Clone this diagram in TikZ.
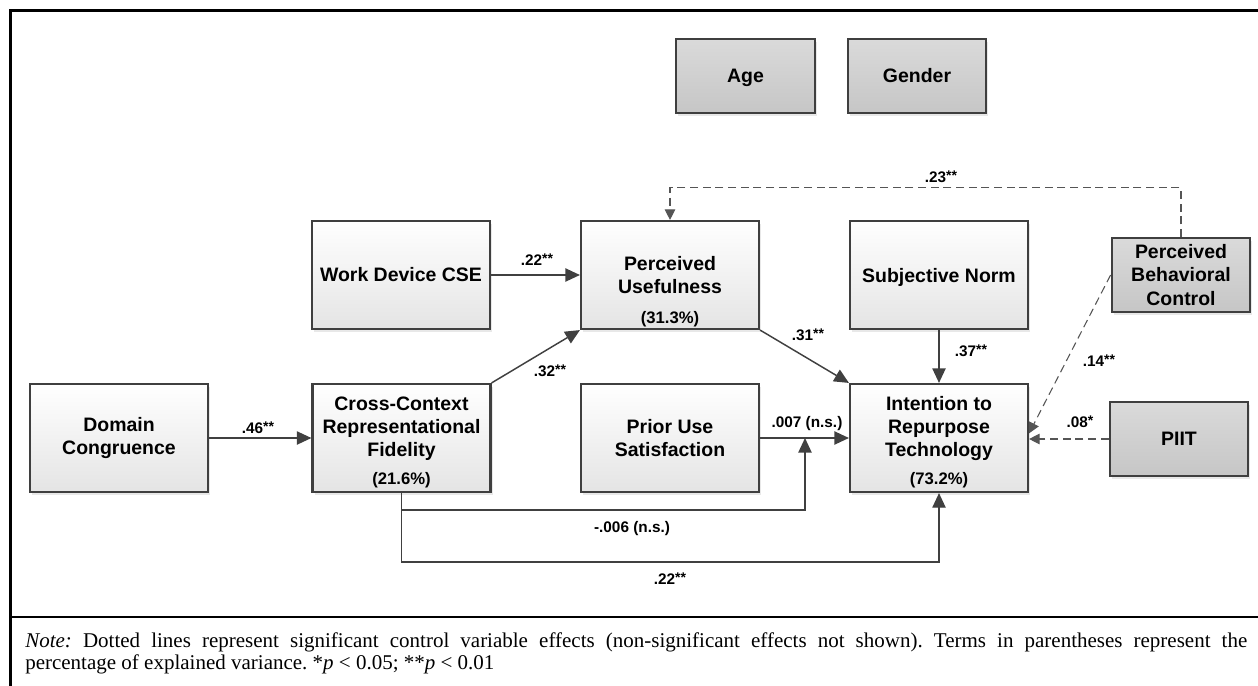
\documentclass[tikz,border=0pt]{standalone}
\usepackage{fontspec}
\setmainfont{Liberation Serif}
\setsansfont{Liberation Sans}
\usetikzlibrary{arrows.meta,shadows}
\newcommand{\stars}[1]{\raisebox{0.08em}{\fontsize{10.5}{10.5}\selectfont #1}}

\begin{document}
\begin{tikzpicture}[x=0.75pt,y=-0.75pt,
  var/.style={draw=boxline,line width=1.6pt,top color=boxtop,bottom color=boxbot,
    minimum width=133.5pt,minimum height=81pt,inner sep=0pt,align=center,
    font=\sffamily\bfseries\fontsize{14.6}{17.3}\selectfont,
    drop shadow={shadow xshift=1.5pt,shadow yshift=-2pt,opacity=0.18}},
  ctrl/.style={var,top color=ctrltop,bottom color=ctrlbot,minimum width=104pt,minimum height=55.5pt},
  pct/.style={font=\sffamily\bfseries\fontsize{12.5}{14}\selectfont,inner sep=0pt,anchor=south},
  effect/.style={draw=arrowline,line width=1.1pt,-{Triangle[length=11pt,width=10pt]}},
  ctrleffect/.style={draw=dashline,line width=0.8pt,dash pattern=on 6pt off 3.5pt,-{Triangle[length=8pt,width=8pt]}},
  coef/.style={font=\sffamily\bfseries\fontsize{11.5}{13}\selectfont,inner sep=0pt,anchor=base}]
\definecolor{boxline}{HTML}{3F3F3F}
\definecolor{boxtop}{HTML}{FFFFFF}
\definecolor{boxbot}{HTML}{E4E4E4}
\definecolor{ctrltop}{HTML}{DADADA}
\definecolor{ctrlbot}{HTML}{C6C6C6}
\definecolor{arrowline}{HTML}{404040}
\definecolor{dashline}{HTML}{555555}
\useasboundingbox (0,0) rectangle (1258,686);
\clip (0,0) rectangle (1258,686);
% frame and note rule
\draw[line width=2.25pt] (1270,10) -- (10,10) -- (10,700);
\draw[line width=1.5pt] (10,617) -- (1270,617);

% control variables
\node[ctrl,text depth=0pt] (age) at (745.5,76) {Age};
\node[ctrl] (gender) at (917,76) {Gender};
\node[ctrl] (pbc) at (1181,275) {Perceived\\Behavioral\\Control};
\node[ctrl] (piit) at (1179,439) {PIIT};

% model variables
\node[var] (wdc) at (401,275) {Work Device CSE};
\node[var,label={[pct,yshift=2pt]south:(31.3\%)}] (pu) at (670,275) {Perceived\\Usefulness};
\node[var,text depth=0pt] (sn) at (939,275) {Subjective Norm};
\node[var] (dc) at (119,438) {Domain\\Congruence};
\node[var,label={[pct,yshift=4pt]south:(21.6\%)}] (cc) at (401.5,438) {Cross-Context\\Representational\\Fidelity\\\mbox{}};
\node[var] (pus) at (670,438) {Prior Use\\Satisfaction};
\node[var,label={[pct,yshift=4pt]south:(73.2\%)}] (it) at (939,438) {Intention to\\Repurpose\\Technology\\\mbox{}};
\coordinate (pusjoin) at (805,438);

% paths
\draw[effect] (dc) -- (cc);
\draw[effect] (wdc) -- (pu);
\draw[effect] (cc.north east) -- (pu.south west);
\draw[effect] (pu.south east) -- (it.north west);
\draw[effect] (sn) -- (it);
\draw[effect] (pus) -- (it);
\draw[effect] (cc.south) -- ++(0,17) -| (pusjoin);
\draw[effect] (cc.south) -- ++(0,69) -| (it.south);
\draw[ctrleffect] (pbc.north) -- ++(0,-49) -| (pu.north);
\draw[ctrleffect] (pbc.west) -- ([yshift=3.5pt]it.east);
\draw[ctrleffect] (piit.west) -- (piit.west -| it.east);

% coefficients
\node[coef] (c46) at (258,433) {.46\stars{**}};
\node[coef] (c22a) at (537,265) {.22\stars{**}};
\node[coef] (c32) at (550,376) {.32\stars{**}};
\node[coef] (c31) at (808,340) {.31\stars{**}};
\node[coef] (c37) at (971,356) {.37\stars{**}};
\node[coef] (c007) at (807,427) {.007 (n.s.)};
\node[coef] (c006) at (632,532) {-.006 (n.s.)};
\node[coef] (c22b) at (670,584) {.22\stars{**}};
\node[coef] (c23) at (941,182) {.23\stars{**}};
\node[coef] (c14) at (1099,366) {.14\stars{**}};
\node[coef] (c08) at (1080,427) {.08\stars{*}};

\node[anchor=base west,inner sep=0pt,font=\fontsize{15.75}{16.5}\selectfont] (note) at (25,647)
  {\parbox[t]{916.5pt}{\frenchspacing\textit{Note:} Dotted lines represent significant control variable effects (non-significant effects not shown). Terms in parentheses represent the\linebreak percentage of explained variance. *\textit{p} < 0.05; **\textit{p} < 0.01}};
\end{tikzpicture}
\end{document}
